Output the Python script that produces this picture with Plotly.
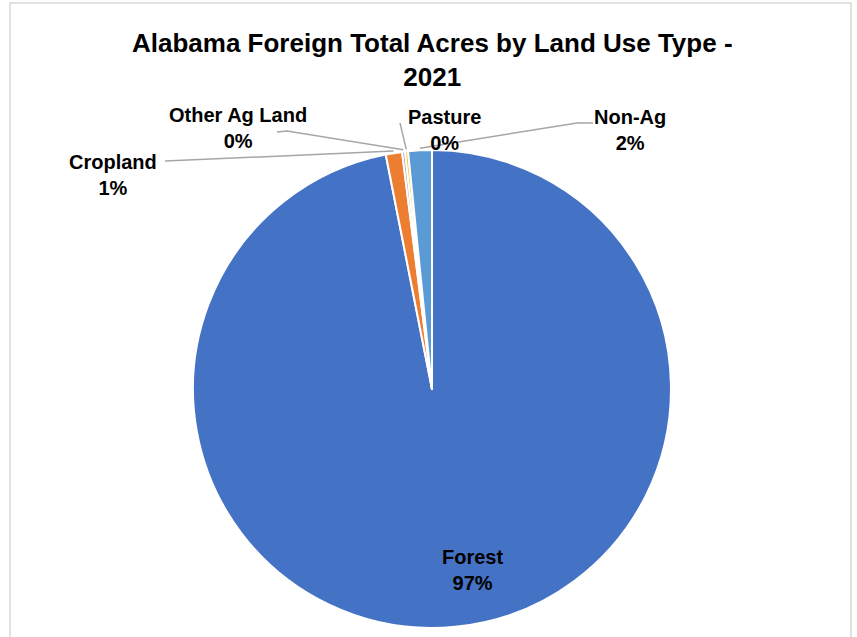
import math
import plotly.graph_objects as go

# Land use categories (clockwise from 12 o'clock) and their share of foreign-held acres
categories = ["Forest", "Cropland", "Other Ag Land", "Pasture", "Non-Ag"]
acres_share = [96.9, 1.1, 0.2, 0.2, 1.6]
colors = ["#4472C4", "#ED7D31", "#A5A5A5", "#FFC000", "#5B9BD5"]

W, H = 857, 637
CX, CY, R = 432, 389, 239  # pie center / radius in pixels

fig = go.Figure(go.Pie(
    labels=categories,
    values=acres_share,
    sort=False,
    direction="clockwise",
    rotation=0,
    marker=dict(colors=colors, line=dict(color="white", width=2)),
    textinfo="none",
    hoverinfo="label+percent",
    showlegend=False,
    domain=dict(x=[(CX - R) / W, (CX + R) / W], y=[1 - (CY + R) / H, 1 - (CY - R) / H]),
))

total = sum(acres_share)
pct = [round(v / total * 100) for v in acres_share]


def px(x, y):
    return x / W, 1 - y / H


def slice_anchor(i, extra=0):
    start = sum(acres_share[:i]) / total
    mid = (start + acres_share[i] / total / 2) * 2 * math.pi
    r = R + extra
    return CX + r * math.sin(mid), CY - r * math.cos(mid)


# label centre positions (pixels) for each category
label_pos = {
    "Forest": (472, 570),
    "Cropland": (113, 175),
    "Other Ag Land": (238, 128),
    "Pasture": (444, 130),
    "Non-Ag": (630, 130),
}

font_lbl = dict(family="Liberation Sans, Arial, sans-serif", size=20, color="black")
annotations = []
for i, name in enumerate(categories):
    x, y = label_pos[name]
    ax, ay = px(x, y)
    annotations.append(dict(
        x=ax, y=ay, xref="paper", yref="paper", showarrow=False,
        text=f"<b>{name}</b><br><b>{pct[i]}%</b>", font=font_lbl,
        align="center", xanchor="center", yanchor="middle",
    ))

annotations.append(dict(
    x=px(432, 0)[0], y=px(0, 60)[1], xref="paper", yref="paper", showarrow=False,
    text="<b>Alabama Foreign Total Acres by Land Use Type -</b><br><b>2021</b>",
    font=dict(family="Liberation Sans, Arial, sans-serif", size=26, color="black"),
    align="center", xanchor="center", yanchor="middle",
))

# leader line start points (pixels) for the small slices
leader_start = {
    "Cropland": [(165, 161)],
    "Other Ag Land": [(277, 132), (287, 131)],
    "Pasture": [(400, 123)],
    "Non-Ag": [(593, 123), (577, 123)],
}

shapes = []
for i, name in enumerate(categories):
    if name not in leader_start:
        continue
    pts = leader_start[name] + [slice_anchor(i, extra=2)]
    path = "M " + " L ".join(f"{px(x, y)[0]:.5f},{px(x, y)[1]:.5f}" for x, y in pts)
    shapes.append(dict(type="path", path=path, xref="paper", yref="paper",
                       line=dict(color="#A6A6A6", width=1.5)))

# chart frame
shapes.append(dict(type="rect", xref="paper", yref="paper",
                   x0=px(10, 0)[0], x1=px(851, 0)[0], y0=-0.05, y1=px(0, 3)[1],
                   line=dict(color="#D9D9D9", width=1.5), fillcolor="rgba(0,0,0,0)"))

fig.update_layout(
    width=W, height=H,
    margin=dict(l=0, r=0, t=0, b=0),
    paper_bgcolor="white", plot_bgcolor="white",
    annotations=annotations, shapes=shapes,
)

fig.write_html("out.html")
